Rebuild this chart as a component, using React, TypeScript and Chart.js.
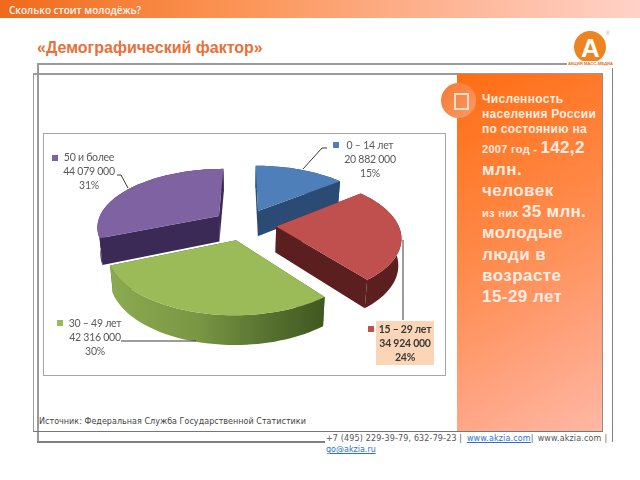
import React, { useEffect, useRef } from "react";
import { Chart, registerables } from "chart.js";

Chart.register(...registerables);

const categories = ["0 – 14 лет", "15 – 29 лет", "30 – 49 лет", "50 и более"];
const populationValues = [20882000, 34924000, 42316000, 44079000];
const percentLabels = ["15%", "24%", "30%", "31%"];
const topColors = ["#4f7fb8", "#bf504d", "#9bbb59", "#7f62a1"];
const wallColors = ["#2b4b74", "#5a1f1e", "#445c25", "#3a2a55"];

const panelLines: [string, number, number, string?, number?][] = [
  ["Численность", 99, 12],
  ["населения России", 114, 12],
  ["по состоянию на", 129, 12],
  ["2007 год - ", 148, 11, "142,2", 17],
  ["млн.", 170, 17],
  ["человек", 191, 17],
  ["из них ", 212, 11, "35 млн.", 17],
  ["молодые", 233, 17],
  ["люди в", 255, 17],
  ["возрасте", 276, 17],
  ["15-29 лет", 297, 17],
];

// chart box placement on the page
const BOX = { left: 44, top: 134, width: 401, height: 241 };

// label anchors: square x/y, text centre x, first line y
const LABELS = [
  { sq: [336, 145], cx: 370, y: 146 },
  { sq: [371, 329], cx: 405, y: 330 },
  { sq: [60, 323], cx: 95, y: 324 },
  { sq: [55, 158], cx: 89, y: 158 },
];
const LEADERS = [
  [[303, 169], [322, 148], [327, 148]],
  [[403, 240], [403, 320]],
  [[121, 341], [196, 341]],
  [[117, 175], [121, 175], [128, 188]],
];

const EXPLODE = 0.26;
const project = (cx: number, cy: number, u: number, v: number, low: boolean) => {
  const s = 122 * (1 + 0.17 * v) * (low ? 0.98 : 1);
  const f = 60 * v + 10 * v * v;
  return [cx + u * s, cy + f + (low ? 26 + 3 * v : 0)];
};

const pie3d = {
  id: "pie3d",
  beforeDatasetDraw(chart: any) {
    const ctx = chart.ctx;
    const arcs = chart.getDatasetMeta(0).data as any[];
    const items = arcs.map((arc, i) => {
      const mid = (arc.startAngle + arc.endAngle) / 2;
      const ox = Math.cos(mid) * EXPLODE;
      const oy = Math.sin(mid) * EXPLODE;
      const rim: [number, number][] = [];
      const n = Math.max(4, Math.ceil((arc.endAngle - arc.startAngle) / 0.04));
      for (let k = 0; k <= n; k++) {
        const a = arc.startAngle + ((arc.endAngle - arc.startAngle) * k) / n;
        rim.push([ox + Math.cos(a), oy + Math.sin(a)]);
      }
      return { arc, i, ox, oy, rim };
    });
    items.sort((a, b) => a.oy - b.oy);
    const fillPoly = (pts: number[][], style: any) => {
      ctx.beginPath();
      pts.forEach(([x, y], k) => (k ? ctx.lineTo(x, y) : ctx.moveTo(x, y)));
      ctx.closePath();
      ctx.fillStyle = style;
      ctx.fill();
    };
    for (const { arc, i, ox, oy, rim } of items) {
      const P = (p: number[], low: boolean) => project(arc.x, arc.y, p[0], p[1], low);
      const top = rim.map((p) => P(p, false));
      const low = rim.map((p) => P(p, true));
      const apexT = P([ox, oy], false);
      const apexL = P([ox, oy], true);
      let wall: any = wallColors[i];
      if (i === 2) {
        const g = ctx.createLinearGradient(arc.x - 140, 0, arc.x + 85, 0);
        g.addColorStop(0, "#8dab50");
        g.addColorStop(0.4, "#7a9844");
        g.addColorStop(0.75, "#546f2e");
        g.addColorStop(1, "#3f5520");
        wall = g;
      }
      // radial walls, then the outer wall, then the top face
      fillPoly([apexT, top[0], low[0], apexL], wallColors[i]);
      fillPoly([apexT, top[top.length - 1], low[low.length - 1], apexL], wallColors[i]);
      fillPoly([...top, ...low.slice().reverse()], wall);
      fillPoly([apexT, ...top], arc.options.backgroundColor);
    }
    return false;
  },
  afterDatasetsDraw(chart: any) {
    const ctx = chart.ctx;
    ctx.save();
    ctx.strokeStyle = "#3a3a3a";
    ctx.lineWidth = 1;
    LEADERS.forEach((line) => {
      ctx.beginPath();
      line.forEach(([x, y], k) => {
        const px = x - BOX.left;
        const py = y - BOX.top;
        k ? ctx.lineTo(px, py) : ctx.moveTo(px, py);
      });
      ctx.stroke();
    });
    ctx.fillStyle = "#fbd5b5";
    ctx.fillRect(376 - BOX.left, 321 - BOX.top, 58, 44);
    ctx.textAlign = "center";
    ctx.textBaseline = "middle";
    (ctx as any).letterSpacing = "-0.25px";
    categories.forEach((name, i) => {
      const p = LABELS[i];
      ctx.fillStyle = topColors[i];
      ctx.fillRect(p.sq[0] - 3 - BOX.left, p.sq[1] - 3 - BOX.top, 6, 6);
      ctx.fillStyle = i === 1 ? "#3a3a3a" : "#595959";
      ctx.font = `${i === 1 ? "bold " : ""}10.5px Lato`;
      const value = populationValues[i].toString().replace(/\B(?=(\d{3})+$)/g, " ");
      [name, value, percentLabels[i]].forEach((t, k) => {
        ctx.fillText(t, p.cx - BOX.left, p.y + k * 13.7 - BOX.top);
      });
    });
    ctx.restore();
  },
};

export default function App() {
  const ref = useRef<HTMLCanvasElement>(null);
  useEffect(() => {
    document.body.style.margin = "0";
    const chart = new Chart(ref.current!, {
      type: "pie",
      data: {
        labels: categories,
        datasets: [{ data: populationValues, backgroundColor: topColors, borderWidth: 0 }],
      },
      options: {
        responsive: false,
        animation: false,
        layout: { padding: { bottom: 60 } },
        plugins: { legend: { display: false }, tooltip: { enabled: false } },
      },
      plugins: [pie3d],
    } as any);
    return () => chart.destroy();
  }, []);

  const gray = "#9a9a9a";
  const abs = (l: number, t: number, w: number, h: number, extra: any = {}) => ({
    position: "absolute" as const, left: l, top: t, width: w, height: h, ...extra,
  });
  const textAt = (l: number, cy: number, extra: any = {}) => ({
    position: "absolute" as const, left: l, top: cy - 10, height: 20, lineHeight: "20px", whiteSpace: "nowrap" as const, ...extra,
  });
  const sans = "'Liberation Sans', sans-serif";
  const dv = "'DejaVu Sans', sans-serif";

  return (
    <div style={{ position: "absolute", left: 0, top: 0, width: 640, height: 480, background: "#fff", overflow: "hidden" }}>
      <div style={abs(0, 0, 640, 18, { background: "linear-gradient(90deg,#f06a1c 0%,#fb9252 35%,#fdb08c 65%,#ffd2c8 100%)" })} />
      <div style={textAt(9, 9.5, { fontFamily: "'Open Sans', sans-serif", fontWeight: 600, fontSize: 10, color: "#fff", opacity: 0.92 })}>Сколько стоит молодёжь?</div>
      <div style={textAt(37, 48, { fontFamily: sans, fontWeight: "bold", fontSize: 16, color: "#e8703a" })}>«Демографический фактор»</div>

      {/* frames */}
      <div style={abs(37, 63, 530, 1.5, { background: gray })} />
      <div style={abs(37, 63, 1.5, 379, { background: gray })} />
      <div style={abs(37, 441, 288, 1.5, { background: "#808080" })} />
      <div style={abs(32.5, 73, 570, 1.5, { background: gray })} />
      <div style={abs(32.5, 73, 1.5, 359, { background: gray })} />
      <div style={abs(32.5, 431, 570, 1, { background: "#777" })} />
      <div style={abs(325, 432.5, 285, 8, { background: "#fff" })} />
      <div style={abs(611.5, 68, 1.5, 374, { background: "#808080" })} />

      {/* orange panel */}
      <div style={abs(457, 74, 145, 357, { background: "linear-gradient(150deg,#ff6d12 0%,#ff8a4a 45%,#ffa27e 75%,#ffb8a4 100%)", borderRight: "1.5px solid #a08a80" })} />
      <div style={abs(440.5, 83, 35, 35, { borderRadius: "50%", background: "linear-gradient(135deg,#f37a30,#fb9a68)" })} />
      <div style={abs(454, 93, 11, 13, { border: "2px solid #fddcc8" })} />
      {panelLines.map(([a, cy, size, b, bSize]) => (
        <div key={a} style={textAt(482, cy, { fontFamily: sans, fontWeight: "bold", fontSize: size, color: "#fff2ea", opacity: 0.95, letterSpacing: size >= 17 ? 0.45 : 0.3 })}>
          {a}
          {b ? <span style={{ fontSize: bSize }}>{b}</span> : null}
        </div>
      ))}

      {/* logo */}
      <div style={abs(574, 31, 32, 32, { borderRadius: "50%", background: "#ee8420" })} />
      <div style={textAt(581, 48, { fontFamily: sans, fontWeight: "bold", fontSize: 26, color: "#fff" })}>А</div>
      <div style={textAt(606, 33, { fontFamily: sans, fontSize: 5, color: "#e8a070" })}>®</div>
      <div style={abs(567, 61, 46, 6, { background: "#fff" })} />
      <div style={textAt(568, 64, { fontFamily: sans, fontWeight: "bold", fontSize: 4.2, color: "#d9752c" })}>АКЦИЯ МАСС-МЕДИА</div>

      {/* chart box */}
      <div style={abs(BOX.left, BOX.top, BOX.width, BOX.height, { outline: "1.5px solid #a6a6a6", background: "#fff" })}>
        <canvas ref={ref} width={BOX.width} height={BOX.height} style={{ display: "block" }} />
      </div>

      <div style={textAt(39, 422, { fontFamily: dv, fontSize: 8, color: "#444", letterSpacing: 0.03 })}>Источник: Федеральная Служба Государственной Статистики</div>

      <div style={textAt(326, 439, { fontFamily: dv, fontSize: 8, color: "#555", letterSpacing: 0.15 })}>
        +7 (495) 229-39-79, 632-79-23 | <span style={{ marginLeft: 2, color: "#2f6fd0", textDecoration: "underline" }}>www.akzia.com</span>|<span style={{ marginLeft: 4 }}>www.akzia.com</span><span style={{ marginLeft: 3 }}>|</span>
      </div>
      <div style={textAt(326, 450, { fontFamily: dv, fontSize: 8, color: "#2f6fd0", textDecoration: "underline" })}>go@akzia.ru</div>
    </div>
  );
}
